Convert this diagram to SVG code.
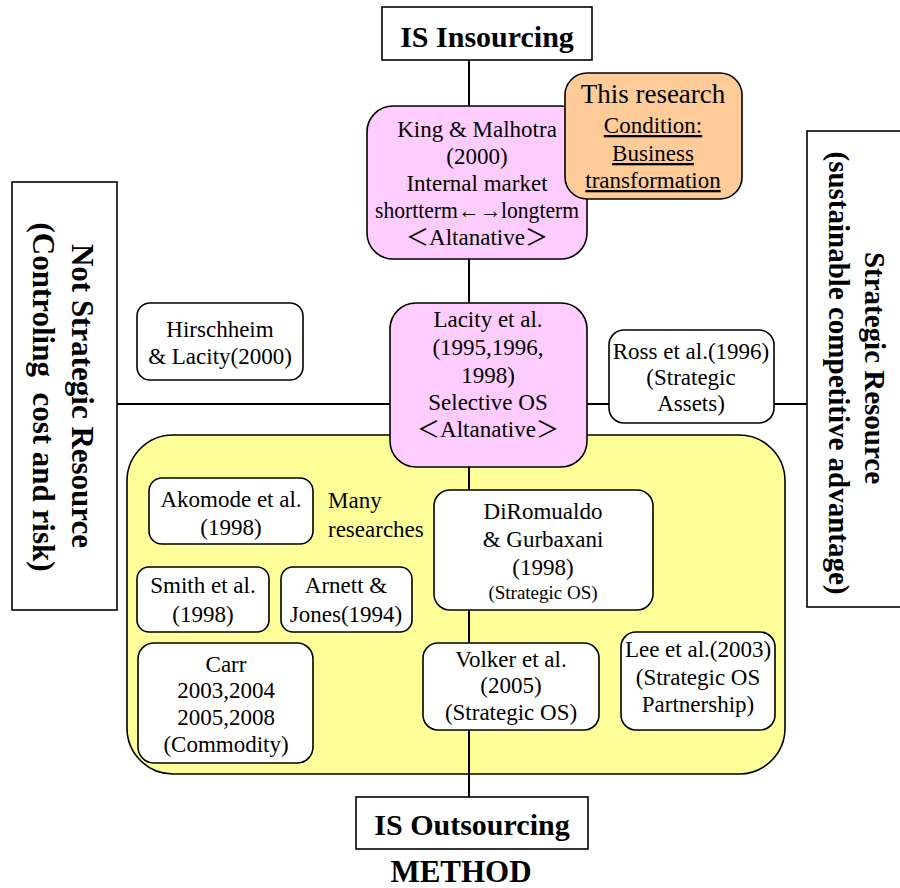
<svg xmlns="http://www.w3.org/2000/svg" width="900" height="888" viewBox="0 0 900 888">
<style>
text{font-family:"Liberation Serif","Times New Roman","DejaVu Serif",serif;fill:#000;}
.j{font-family:"Liberation Serif","Noto Sans CJK JP",serif;}
.t{font-size:23px;text-anchor:middle;}
.s{font-size:19px;text-anchor:middle;}
.b{font-weight:bold;text-anchor:middle;}
.u{text-decoration:underline;}
.box{fill:#fff;stroke:#000;stroke-width:1.6;}
.pink{fill:#FFCCFF;stroke:#000;stroke-width:1.6;}
.line{stroke:#000;stroke-width:2;fill:none;}
</style>
<rect width="900" height="888" fill="#fff"/>
<g id="group-yellow">
<rect x="127" y="435" width="658" height="339" rx="46" ry="46" fill="#FFFF99" stroke="#000" stroke-width="1.6"/>
</g>
<g id="connectors">
<line class="line" x1="469" y1="60" x2="469" y2="797"/>
<line class="line" x1="117" y1="404" x2="807" y2="404"/>
</g>
<g id="is-insourcing">
<rect class="box" x="382" y="7" width="210" height="53"/>
<text class="b" x="487" y="47" font-size="30">IS Insourcing</text>
</g>
<g id="is-outsourcing">
<rect class="box" x="356" y="797" width="232" height="52"/>
<text class="b" x="472" y="835" font-size="30">IS Outsourcing</text>
</g>
<g id="method">
<text class="b" x="461" y="882" font-size="31">METHOD</text>
</g>
<g id="not-strategic">
<rect class="box" x="12" y="182" width="105" height="428"/>
<text class="b" font-size="31" transform="translate(72,396) rotate(90)">Not Strategic Resource</text>
<text class="b" font-size="31" transform="translate(33,397) rotate(90)" style="white-space:pre">(Controling  cost and risk)</text>
</g>
<g id="strategic">
<rect class="box" x="807" y="131" width="100" height="476"/>
<text class="b" font-size="29" transform="translate(865,368) rotate(90)">Strategic Resource</text>
<text class="b" font-size="29" transform="translate(829,373) rotate(90)">(sustainable competitive advantage)</text>
</g>
<g id="king-malhotra">
<rect class="pink" x="367" y="106" width="220" height="153" rx="26" ry="26"/>
<text class="t" x="477" y="137">King &amp; Malhotra</text>
<text class="t" x="477" y="164">(2000)</text>
<text class="t" x="477" y="191">Internal market</text>
<text class="t" x="477" y="218" textLength="204" lengthAdjust="spacingAndGlyphs">shortterm←→longterm</text>
<text class="t" x="477" y="245"><tspan class="j">＜</tspan>Altanative<tspan class="j">＞</tspan></text>
</g>
<g id="this-research">
<rect x="565" y="73" width="177" height="126" rx="22" ry="22" fill="#FFCC99" stroke="#000" stroke-width="1.6"/>
<text class="t" x="653" y="103" style="font-size:27px">This research</text>
<text class="t u" x="653" y="133">Condition:</text>
<text class="t u" x="653" y="161">Business</text>
<text class="t u" x="653" y="188">transformation</text>
</g>
<g id="hirschheim">
<rect class="box" x="137" y="303" width="166" height="77" rx="13" ry="13"/>
<text class="t" x="220" y="337">Hirschheim</text>
<text class="t" x="220" y="364">&amp; Lacity(2000)</text>
</g>
<g id="lacity">
<rect class="pink" x="390" y="303" width="197" height="164" rx="26" ry="26"/>
<text class="t" x="488" y="327">Lacity et al.</text>
<text class="t" x="488" y="355">(1995,1996,</text>
<text class="t" x="488" y="383">1998)</text>
<text class="t" x="488" y="410">Selective OS</text>
<text class="t" x="488" y="437"><tspan class="j">＜</tspan>Altanative<tspan class="j">＞</tspan></text>
</g>
<g id="ross">
<rect class="box" x="609" y="330" width="165" height="93" rx="15" ry="15"/>
<text class="t" x="691" y="359">Ross et al.(1996)</text>
<text class="t" x="691" y="385">(Strategic</text>
<text class="t" x="691" y="411">Assets)</text>
</g>
<g id="akomode">
<rect class="box" x="149" y="478" width="164" height="66" rx="13" ry="13"/>
<text class="t" x="231" y="507">Akomode et al.</text>
<text class="t" x="231" y="535">(1998)</text>
</g>
<g id="many-researches">
<text x="328" y="508" font-size="23">Many</text>
<text x="328" y="537" font-size="23">researches</text>
</g>
<g id="diromualdo">
<rect class="box" x="434" y="490" width="219" height="120" rx="16" ry="16"/>
<text class="t" x="543" y="519">DiRomualdo</text>
<text class="t" x="543" y="547">&amp; Gurbaxani</text>
<text class="t" x="543" y="575">(1998)</text>
<text class="s" x="543" y="599">(Strategic OS)</text>
</g>
<g id="smith">
<rect class="box" x="137" y="567" width="132" height="65" rx="12" ry="12"/>
<text class="t" x="203" y="593">Smith et al.</text>
<text class="t" x="203" y="622">(1998)</text>
</g>
<g id="arnett">
<rect class="box" x="281" y="567" width="131" height="65" rx="12" ry="12"/>
<text class="t" x="346" y="593">Arnett &amp;</text>
<text class="t" x="346" y="622">Jones(1994)</text>
</g>
<g id="carr">
<rect class="box" x="138" y="643" width="175" height="120" rx="16" ry="16"/>
<text class="t" x="226" y="672">Carr</text>
<text class="t" x="226" y="698">2003,2004</text>
<text class="t" x="226" y="725">2005,2008</text>
<text class="t" x="226" y="752">(Commodity)</text>
</g>
<g id="volker">
<rect class="box" x="423" y="643" width="176" height="87" rx="15" ry="15"/>
<text class="t" x="511" y="667">Volker et al.</text>
<text class="t" x="511" y="693">(2005)</text>
<text class="t" x="511" y="720">(Strategic OS)</text>
</g>
<g id="lee">
<rect class="box" x="621" y="632" width="154" height="98" rx="15" ry="15"/>
<text class="t" x="698" y="657">Lee et al.(2003)</text>
<text class="t" x="698" y="685">(Strategic OS</text>
<text class="t" x="698" y="712">Partnership)</text>
</g>
</svg>
